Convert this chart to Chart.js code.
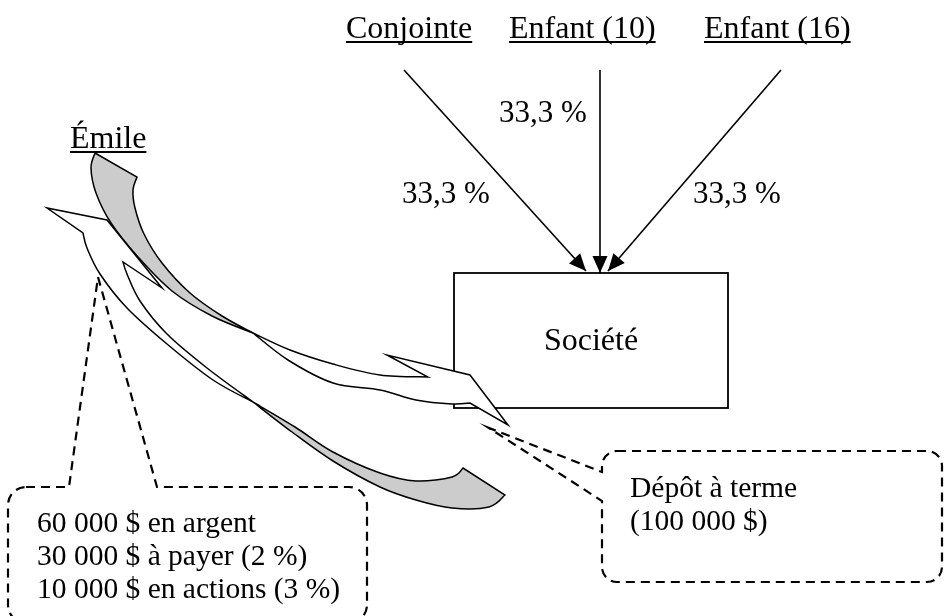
<!DOCTYPE html>
<html><head><meta charset="utf-8">
<script src="https://cdn.jsdelivr.net/npm/chart.js@4"></script>
<style>html,body{margin:0;padding:0;background:#fff}canvas{display:block}</style>
</head><body>
<canvas id="c" width="945" height="616"></canvas>
<script>
// ---------- text content ----------
const partyLabels  = ['Conjointe', 'Enfant (10)', 'Enfant (16)'];
const shareLabels  = ['33,3 %', '33,3 %', '33,3 %'];
const companyLabel = 'Société';
const founderLabel = 'Émile';
const paymentLines = ['60 000 $ en argent', '30 000 $ à payer (2 %)', '10 000 $ en actions (3 %)'];
const depositLines = ['Dépôt à terme', '(100 000 $)'];

// ---------- geometry (data units: x 0–945, y 0–616 downward) ----------
const partyAnchors  = [[346, 38], [509, 38], [704, 38]];
const shareAnchors  = [[402, 203], [499, 122], [693, 203]];
const founderAnchor = [70, 148];
const arrowStarts   = [[404, 70], [600, 70], [781, 70]];
const arrowEnds     = [[586, 271], [600, 273], [608, 271]];
const companyBox    = [454, 273, 728, 408];
const paymentAnchor = [37, 532];
const paymentStep   = 33;
const depositAnchor = [630, 497];
const depositStep   = 33;

const paymentBubble = { box: [8, 487, 367, 623], r: 18, side: 'top',  base: [69, 157], tip: [98, 277] };
const depositBubble = { box: [602, 451, 942, 582], r: 15, side: 'left', base: [472, 501], tip: [489, 428] };

// curved arrow outlines: runs of ['l' straight | 'c' smooth, points]
const upperTail = [
  ['l', [[95,153],[137,177]]],
  ['c', [[137,177],[133,190],[135,208],[144,234],[162,263],[190,293],[222,316],[253,333]]],
  ['c', [[253,333],[212,316],[172,291],[138,257],[111,223],[96,193],[91,168],[95,153]]]
];
const upperBand = [
  ['c', [[253,333],[290,350],[333,364],[380,375],[428,377]]],
  ['l', [[428,377],[387,355],[470,375],[508,425],[470,403]]],
  ['c', [[470,403],[452,404],[416,400],[380,390],[333,383],[288,360],[253,333]]]
];
const returnBand = [
  ['c', [[253,402],[207,368],[167,334],[140,301],[127,274],[123,262]]],
  ['l', [[123,262],[162,288],[107,220],[47,208],[83,233]]],
  ['c', [[83,233],[87,248],[100,274],[127,308],[167,344],[213,380],[253,402]]]
];
const returnTail = [
  ['c', [[253,402],[295,427],[333,452],[380,473],[416,481],[452,477],[463,468]]],
  ['l', [[463,468],[505,495]]],
  ['c', [[505,495],[489,507],[452,508],[416,500],[380,487],[333,461],[292,432],[253,402]]]
];

const SERIF = '"Liberation Serif", "Times New Roman", serif';

function tracePath(ctx, runs, P) {
  ctx.beginPath();
  let first = true;
  runs.forEach(([kind, pts]) => {
    const px = pts.map(P);
    if (first) { ctx.moveTo(px[0][0], px[0][1]); first = false; }
    if (kind === 'l') {
      for (let i = 1; i < px.length; i++) ctx.lineTo(px[i][0], px[i][1]);
    } else {
      for (let i = 0; i < px.length - 1; i++) {
        const p0 = px[Math.max(i - 1, 0)], p1 = px[i], p2 = px[i + 1], p3 = px[Math.min(i + 2, px.length - 1)];
        ctx.bezierCurveTo(p1[0] + (p2[0] - p0[0]) / 6, p1[1] + (p2[1] - p0[1]) / 6,
                          p2[0] - (p3[0] - p1[0]) / 6, p2[1] - (p3[1] - p1[1]) / 6, p2[0], p2[1]);
      }
    }
  });
  ctx.closePath();
}

function traceBubble(ctx, b, P) {
  const [l, t] = P([b.box[0], b.box[1]]);
  const [r, bt] = P([b.box[2], b.box[3]]);
  const rad = b.r;
  ctx.beginPath();
  ctx.moveTo(l + rad, t);
  if (b.side === 'top') {
    const a = P([b.base[0], b.box[1]]), c = P([b.base[1], b.box[1]]), tp = P(b.tip);
    ctx.lineTo(a[0], t); ctx.lineTo(tp[0], tp[1]); ctx.lineTo(c[0], t);
  }
  ctx.lineTo(r - rad, t); ctx.arcTo(r, t, r, t + rad, rad);
  ctx.lineTo(r, bt - rad); ctx.arcTo(r, bt, r - rad, bt, rad);
  ctx.lineTo(l + rad, bt); ctx.arcTo(l, bt, l, bt - rad, rad);
  if (b.side === 'left') {
    const a = P([b.box[0], b.base[0]]), c = P([b.box[0], b.base[1]]), tp = P(b.tip);
    ctx.lineTo(l, c[1]); ctx.lineTo(tp[0], tp[1]); ctx.lineTo(l, a[1]);
  }
  ctx.lineTo(l, t + rad); ctx.arcTo(l, t, l + rad, t, rad);
  ctx.closePath();
}

const diagramPlugin = {
  id: 'diagram',
  beforeDatasetsDraw(chart) {
    const ctx = chart.ctx, sx = chart.scales.x, sy = chart.scales.y;
    const P = p => [sx.getPixelForValue(p[0]), sy.getPixelForValue(p[1])];
    ctx.save();
    const a = P([companyBox[0], companyBox[1]]), b = P([companyBox[2], companyBox[3]]);
    ctx.strokeStyle = '#000'; ctx.lineWidth = 1.8;
    ctx.strokeRect(a[0], a[1], b[0] - a[0], b[1] - a[1]);
    ctx.setLineDash([9, 6]); ctx.lineWidth = 2.2;
    [paymentBubble, depositBubble].forEach(bb => { traceBubble(ctx, bb, P); ctx.stroke(); });
    ctx.setLineDash([]);
    ctx.lineWidth = 1.5; ctx.lineJoin = 'miter';
    const shapes = [[upperTail, '#cccccc'], [upperBand, '#ffffff'], [returnTail, '#cccccc'], [returnBand, '#ffffff']];
    shapes.forEach(([runs, fill]) => {
      tracePath(ctx, runs, P);
      ctx.fillStyle = fill; ctx.fill(); ctx.stroke();
    });
    ctx.restore();
  },
  afterDatasetsDraw(chart) {
    const ctx = chart.ctx, sx = chart.scales.x, sy = chart.scales.y;
    const P = p => [sx.getPixelForValue(p[0]), sy.getPixelForValue(p[1])];
    ctx.save();
    ctx.fillStyle = '#000';
    arrowEnds.forEach((e, i) => {
      const s = P(arrowStarts[i]), t = P(e);
      const ang = Math.atan2(t[1] - s[1], t[0] - s[0]);
      const len = 17, hw = 7.5;
      ctx.beginPath();
      ctx.moveTo(t[0], t[1]);
      ctx.lineTo(t[0] - len * Math.cos(ang) + hw * Math.sin(ang), t[1] - len * Math.sin(ang) - hw * Math.cos(ang));
      ctx.lineTo(t[0] - len * Math.cos(ang) - hw * Math.sin(ang), t[1] - len * Math.sin(ang) + hw * Math.cos(ang));
      ctx.closePath(); ctx.fill();
    });
    ctx.textBaseline = 'alphabetic'; ctx.textAlign = 'left'; ctx.fillStyle = '#000';
    const underlined = (txt, pos) => {
      const p = P(pos);
      ctx.fillText(txt, p[0], p[1]);
      const w = ctx.measureText(txt).width;
      ctx.fillRect(p[0], p[1] + 3, w, 2);
    };
    ctx.font = '32px ' + SERIF;
    partyLabels.forEach((t, i) => underlined(t, partyAnchors[i]));
    underlined(founderLabel, founderAnchor);
    ctx.font = '31px ' + SERIF;
    shareLabels.forEach((t, i) => { const p = P(shareAnchors[i]); ctx.fillText(t, p[0], p[1]); });
    ctx.font = '32px ' + SERIF;
    ctx.textAlign = 'center';
    const bc = P([(companyBox[0] + companyBox[2]) / 2, 350]);
    ctx.fillText(companyLabel, bc[0], bc[1]);
    ctx.textAlign = 'left';
    ctx.font = '29.5px ' + SERIF;
    paymentLines.forEach((t, i) => { const p = P([paymentAnchor[0], paymentAnchor[1] + i * paymentStep]); ctx.fillText(t, p[0], p[1]); });
    depositLines.forEach((t, i) => { const p = P([depositAnchor[0], depositAnchor[1] + i * depositStep]); ctx.fillText(t, p[0], p[1]); });
    ctx.restore();
  }
};

new Chart(document.getElementById('c'), {
  type: 'scatter',
  data: {
    datasets: arrowStarts.map((s, i) => ({
      data: [{ x: s[0], y: s[1] }, { x: arrowEnds[i][0], y: arrowEnds[i][1] }],
      showLine: true, borderColor: '#000', borderWidth: 1.6, pointRadius: 0, fill: false
    }))
  },
  options: {
    responsive: false, devicePixelRatio: 1, animation: false,
    layout: { padding: 0 },
    plugins: { legend: { display: false }, tooltip: { enabled: false } },
    scales: {
      x: { type: 'linear', min: 0, max: 945, display: false },
      y: { type: 'linear', min: 0, max: 616, reverse: true, display: false }
    }
  },
  plugins: [diagramPlugin]
});
</script>
</body></html>
